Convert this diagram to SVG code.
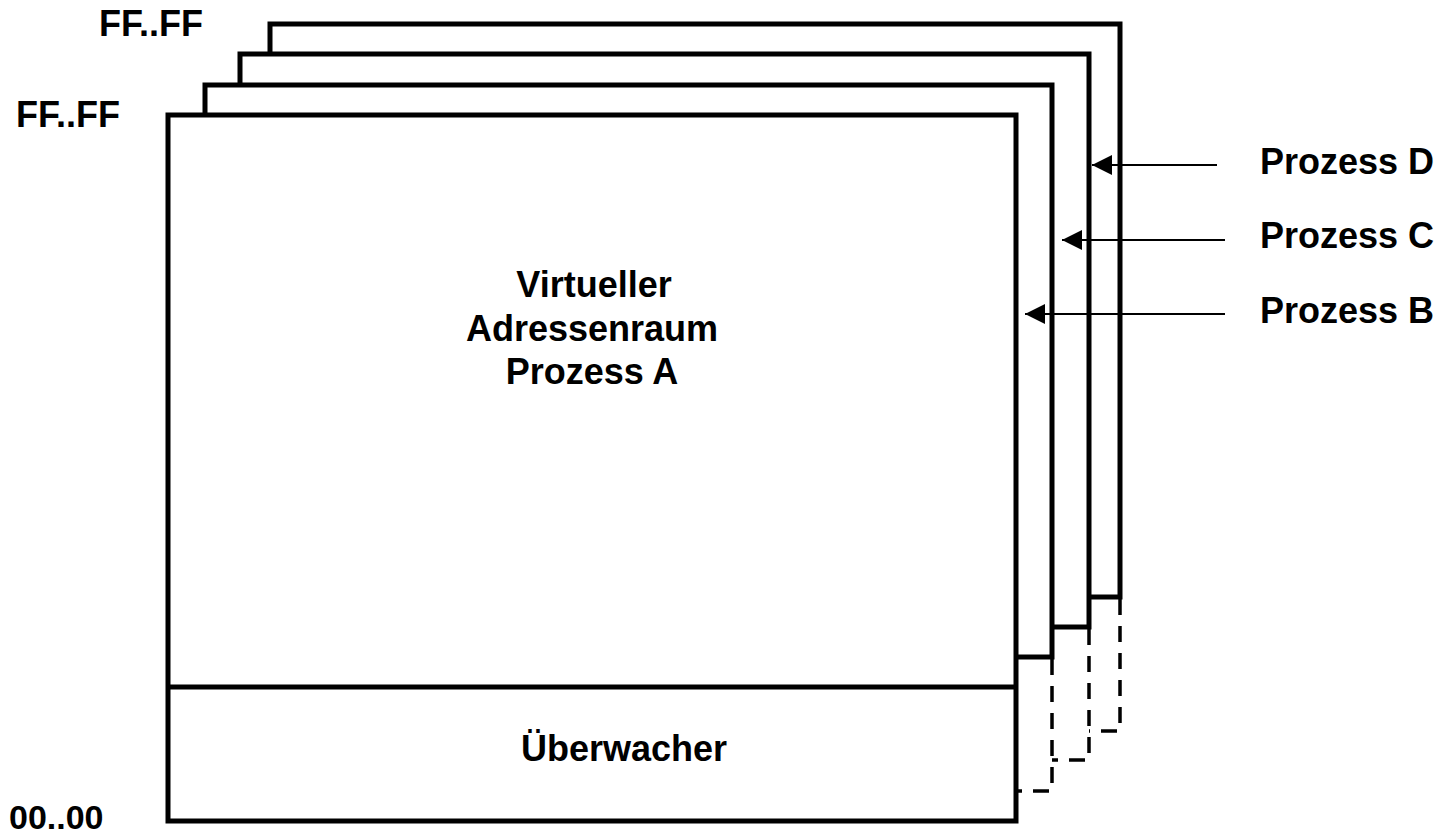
<svg xmlns="http://www.w3.org/2000/svg" width="1452" height="837" viewBox="0 0 1452 837">
<style>
.box{fill:#fff;stroke:#000;stroke-width:5}
.ln{fill:none;stroke:#000;stroke-width:5}
.dash{fill:none;stroke:#000;stroke-width:3.5;stroke-dasharray:16 11}
.arr{fill:none;stroke:#000;stroke-width:2}
.t{font-family:"Liberation Sans",Arial,sans-serif;font-weight:bold;font-size:36px;fill:#000}
.c{text-anchor:middle}
</style>
<defs>
<marker id="ah" markerUnits="userSpaceOnUse" markerWidth="20" markerHeight="20" viewBox="0 0 18 18" refX="18" refY="9" orient="auto">
<path d="M0,0 L18,9 L0,18 Z" fill="#000"/>
</marker>
</defs>
<rect width="1452" height="837" fill="#fff"/>
<g id="prozess-d">
<rect class="box" x="270" y="24" width="850" height="573"/>
<path class="dash" d="M1120,599 V731 H1089"/>
</g>
<g id="prozess-c">
<rect class="box" x="240" y="54" width="849" height="573"/>
<path class="dash" d="M1089,629 V760 H1052"/>
</g>
<g id="prozess-b">
<rect class="box" x="205" y="85" width="847" height="572"/>
<path class="dash" d="M1052,659 V791 H1016"/>
</g>
<g id="prozess-a">
<rect class="box" x="168" y="115" width="848" height="706"/>
<line class="ln" x1="168" y1="687" x2="1016" y2="687"/>
<text class="t c" x="594" y="297">Virtueller</text>
<text class="t c" x="592" y="341">Adressenraum</text>
<text class="t c" x="592" y="384">Prozess A</text>
<text class="t c" x="624" y="761">Überwacher</text>
</g>
<g id="labels">
<text class="t" x="99" y="36">FF..FF</text>
<text class="t" x="16" y="127">FF..FF</text>
<text class="t" x="9" y="829" style="font-size:34px">00..00</text>
<text class="t" x="1260" y="174">Prozess D</text>
<text class="t" x="1260" y="248">Prozess C</text>
<text class="t" x="1260" y="323">Prozess B</text>
</g>
<g id="connectors">
<line class="arr" x1="1217" y1="165" x2="1092" y2="165" marker-end="url(#ah)"/>
<line class="arr" x1="1225" y1="240" x2="1062" y2="240" marker-end="url(#ah)"/>
<line class="arr" x1="1225" y1="314" x2="1025" y2="314" marker-end="url(#ah)"/>
</g>
</svg>
